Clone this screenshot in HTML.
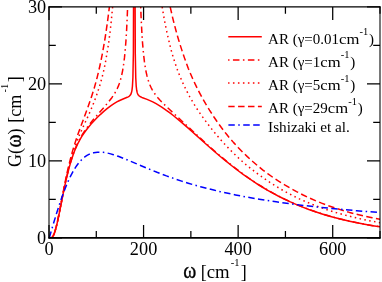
<!DOCTYPE html>
<html><head><meta charset="utf-8"><title>G(ω)</title>
<style>
html,body{margin:0;padding:0;background:#fff;}
body{width:382px;height:282px;overflow:hidden;}
svg{display:block;}
text{font-family:"Liberation Serif",serif;font-size:18px;fill:#000;}
.lg{font-size:15px;}
.tk{font-size:18.3px;}
.om{font-size:22.5px;stroke:#000;stroke-width:0.35px;}
.c{fill:none;stroke:#f00;stroke-width:1.5;stroke-linejoin:round;}
</style></head><body>
<svg width="382" height="282" viewBox="0 0 382 282">
<rect width="382" height="282" fill="#fff"/>
<defs><clipPath id="cp"><rect x="49.0" y="6.9" width="331.0" height="231.0"/></clipPath></defs>
<g clip-path="url(#cp)">
<path class="c" d="M49.20,238.10 L50.15,238.09 L51.09,237.92 L51.56,237.70 L52.04,237.35 L52.51,236.85 L52.98,236.18 L53.46,235.34 L53.93,234.33 L54.40,233.14 L55.35,230.28 L56.77,224.91 L58.19,218.58 L63.39,192.57 L65.28,183.60 L67.17,175.37 L69.06,167.98 L70.01,164.60 L71.43,159.91 L72.84,155.66 L74.26,151.81 L75.68,148.32 L77.10,145.15 L78.52,142.27 L79.94,139.63 L81.83,136.43 L83.72,133.53 L86.09,130.23 L88.45,127.21 L91.29,123.87 L94.13,120.75 L96.96,117.81 L100.27,114.57 L104.06,111.14 L107.37,108.38 L110.68,105.87 L113.99,103.63 L116.82,101.95 L119.66,100.47 L122.50,99.20 L127.23,97.31 L128.17,96.86 L129.12,96.28 L130.07,95.43 L130.54,94.79 L131.01,93.89 L131.48,92.55 L131.96,90.35 L132.43,86.34 L132.90,77.70 L133.38,53.05 L134.32,-224.92 L135.27,52.72 L135.74,77.48 L136.21,86.17 L136.69,90.22 L137.16,92.44 L137.63,93.80 L138.11,94.71 L138.58,95.35 L139.05,95.83 L139.52,96.22 L140.47,96.80 L141.89,97.44 L147.09,99.40 L149.93,100.58 L152.77,101.91 L156.08,103.66 L158.91,105.31 L161.75,107.10 L164.59,109.02 L167.43,111.04 L170.26,113.16 L173.57,115.75 L180.67,121.61 L188.23,128.19 L206.20,144.25 L214.71,151.71 L224.17,159.70 L232.69,166.52 L237.89,170.51 L243.09,174.34 L248.29,178.01 L253.02,181.21 L257.75,184.28 L262.95,187.50 L267.68,190.29 L272.88,193.21 L278.56,196.22 L284.70,199.28 L290.38,201.93 L296.53,204.62 L302.67,207.13 L308.82,209.46 L315.44,211.79 L322.06,213.94 L328.68,215.93 L335.30,217.76 L342.40,219.56 L349.49,221.21 L357.06,222.81 L364.62,224.26 L372.66,225.66 L380.51,226.89"/>
<path class="c" stroke-dasharray="1.529 3.387 6.445 3.387" stroke-dashoffset="13.691" d="M49.20,238.10 L50.15,238.07 L51.09,237.89 L51.56,237.66 L52.04,237.30 L52.51,236.79 L52.98,236.11 L53.46,235.26 L53.93,234.24 L54.40,233.04 L55.35,230.16 L56.29,226.69 L57.71,220.61 L59.13,213.81 L64.33,187.67 L66.22,178.99 L67.64,173.01 L69.53,165.76 L70.48,162.46 L71.90,157.87 L73.79,152.40 L74.74,149.92 L76.16,146.49 L78.52,141.42 L80.88,137.02 L82.30,134.63 L83.72,132.39 L86.56,128.28 L89.40,124.51 L93.18,119.83 L96.96,115.38 L105.48,105.61 L108.82,101.61 L112.03,97.43 L114.46,93.79 L115.88,91.34 L117.16,88.82 L118.34,86.14 L119.32,83.52 L120.27,80.61 L121.08,77.67 L121.91,74.12 L122.63,70.53 L123.64,64.21 L124.50,57.41 L125.30,49.20 L125.97,40.54 L126.60,30.18 L127.20,17.68 L127.70,4.35 L128.15,-10.32 L128.59,-28.41 L128.94,-46.19 L129.59,-91.18 L130.13,-146.12 L130.68,-224.92 L134.12,-224.92"/>
<path class="c" stroke-dasharray="1.528 3.384 6.440 3.384" stroke-dashoffset="0.504" d="M134.12,-224.92 L137.57,-224.92 L137.62,-223.44 L137.94,-171.10 L138.29,-128.45 L138.72,-88.28 L139.17,-56.17 L139.73,-27.06 L140.33,-4.12 L141.05,16.10 L141.83,31.88 L142.56,43.07 L143.45,53.23 L144.39,61.40 L144.94,65.26 L145.51,68.71 L146.14,72.05 L146.83,75.13 L147.46,77.61 L148.25,80.30 L149.06,82.72 L149.93,84.95 L150.94,87.24 L152.01,89.35 L152.97,91.02 L154.13,92.85 L155.33,94.56 L156.58,96.20 L158.07,98.00 L159.62,99.75 L163.64,103.89 L169.32,109.30 L199.11,137.01 L207.15,144.38 L214.24,150.72 L220.86,156.45 L227.48,161.98 L233.63,166.89 L239.78,171.60 L245.93,176.08 L251.60,180.01 L257.75,184.05 L263.90,187.86 L270.04,191.45 L276.66,195.07 L282.81,198.21 L289.43,201.36 L296.05,204.29 L302.67,207.01 L309.77,209.70 L316.86,212.17 L323.95,214.44 L331.52,216.65 L339.09,218.67 L346.65,220.50 L354.69,222.26 L363.21,223.94 L371.72,225.45 L380.51,226.84"/>
<path class="c" stroke-dasharray="1.531 3.393" stroke-dashoffset="4.986" d="M49.20,238.10 L50.15,238.09 L51.09,237.91 L51.56,237.68 L52.04,237.32 L52.51,236.81 L52.98,236.14 L53.46,235.28 L53.93,234.25 L54.87,231.68 L56.29,226.65 L57.24,222.66 L58.19,218.29 L63.86,189.37 L65.28,182.48 L66.70,175.99 L69.06,166.13 L70.48,160.80 L71.90,155.88 L73.32,151.35 L74.74,147.15 L76.16,143.25 L78.05,138.43 L81.36,130.75 L87.98,116.42 L90.82,110.00 L93.65,103.06 L96.49,95.50 L97.91,91.37 L99.33,86.92 L100.75,82.16 L102.16,77.02 L103.11,73.27 L104.06,69.14 L105.00,64.53 L105.90,59.74 L107.84,48.23 L108.90,41.27 L110.20,30.87 L111.31,20.67 L112.54,7.54 L113.56,-5.05 L114.70,-21.51 L115.65,-37.35 L116.56,-54.99 L117.44,-74.66 L118.24,-95.43 L118.97,-116.78 L119.66,-140.02 L120.40,-168.16 L121.61,-224.44 L121.73,-224.92 L133.23,-224.92"/>
<path class="c" stroke-dasharray="1.531 3.393" stroke-dashoffset="4.834" d="M133.23,-224.92 L147.21,-224.92 L147.35,-222.39 L148.59,-182.16 L149.74,-150.86 L151.12,-120.00 L152.56,-93.15 L153.40,-79.75 L154.26,-67.31 L155.13,-55.89 L156.05,-45.03 L156.98,-35.03 L157.97,-25.44 L159.12,-15.33 L160.14,-7.30 L161.39,1.68 L162.70,10.13 L163.64,15.72 L165.06,23.40 L166.48,30.36 L167.90,36.71 L170.74,48.52 L171.68,52.04 L173.57,58.41 L175.46,64.22 L177.36,69.62 L179.72,75.81 L182.08,81.39 L184.45,86.48 L186.81,91.23 L189.65,96.57 L193.43,103.17 L196.74,108.50 L200.53,114.12 L204.78,120.02 L209.99,126.86 L215.19,133.31 L220.39,139.38 L225.59,145.11 L230.79,150.52 L236.00,155.64 L241.20,160.46 L245.93,164.58 L251.13,168.81 L256.80,173.15 L263.90,178.27 L269.57,182.15 L275.25,185.80 L281.39,189.49 L287.07,192.67 L293.22,195.87 L299.36,198.83 L305.51,201.57 L312.13,204.31 L319.23,207.02 L325.85,209.34 L332.94,211.63 L340.03,213.73 L347.13,215.64 L356.11,217.85 L364.15,219.66 L372.19,221.28 L380.51,222.75"/>
<path class="c" stroke-dasharray="6.458 3.395" stroke-dashoffset="9.478" d="M49.20,238.10 L50.15,238.08 L51.09,237.90 L51.56,237.66 L52.04,237.29 L52.51,236.77 L52.98,236.07 L53.46,235.21 L53.93,234.16 L54.40,232.93 L55.35,229.98 L56.77,224.45 L58.19,217.92 L59.60,210.76 L63.86,188.36 L66.22,176.73 L68.59,166.18 L70.95,156.76 L72.37,151.62 L73.79,146.81 L76.63,138.02 L79.47,130.00 L85.14,114.80 L87.98,106.96 L91.76,95.92 L94.13,88.52 L96.49,80.04 L98.85,70.46 L100.75,61.86 L102.64,52.26 L104.53,41.49 L105.95,32.52 L107.62,20.83 L109.03,9.88 L110.39,-1.73 L111.89,-15.81 L113.32,-30.73 L114.70,-46.44 L115.88,-61.20 L117.10,-77.70 L118.31,-95.11 L119.59,-115.02 L121.95,-154.83 L125.81,-224.52 L125.90,-224.92 L134.53,-224.92"/>
<path class="c" stroke-dasharray="6.468 3.401" stroke-dashoffset="3.209" d="M134.53,-224.92 L144.58,-224.92 L144.69,-224.35 L148.04,-177.85 L150.75,-143.21 L152.11,-127.34 L153.54,-111.67 L154.87,-98.02 L156.27,-84.71 L157.72,-71.81 L159.24,-59.37 L160.80,-47.58 L162.27,-37.34 L163.64,-28.44 L165.53,-17.10 L167.43,-6.76 L169.32,2.73 L170.74,9.34 L172.63,17.55 L174.05,23.31 L175.94,30.52 L177.83,37.23 L179.72,43.52 L182.08,50.87 L184.45,57.87 L186.34,63.19 L188.23,68.18 L190.12,72.81 L192.49,78.25 L194.85,83.38 L197.22,88.24 L199.58,92.87 L202.42,98.15 L205.73,103.93 L209.51,110.14 L213.77,116.72 L217.55,122.25 L221.34,127.49 L225.59,133.05 L229.37,137.69 L233.63,142.62 L238.36,147.77 L242.62,152.10 L247.35,156.64 L253.02,161.79 L258.22,166.26 L262.95,170.09 L267.68,173.69 L272.88,177.36 L278.56,181.11 L284.70,184.93 L290.38,188.24 L296.53,191.60 L303.15,195.00 L309.29,197.94 L315.44,200.66 L321.59,203.17 L328.21,205.64 L335.30,208.08 L342.40,210.34 L349.49,212.40 L356.11,214.13 L363.21,215.81 L372.19,217.78 L380.51,219.45"/>
<path class="c" style="stroke:#00f" stroke-dasharray="6.458 3.395 1.532 3.395 6.458 3.395" stroke-dashoffset="24.250" d="M49.20,238.10 L53.93,222.05 L56.77,212.76 L59.60,203.94 L62.44,195.70 L65.28,188.16 L68.12,181.37 L70.01,177.29 L70.95,175.38 L72.84,171.83 L73.79,170.18 L75.68,167.15 L76.63,165.76 L78.52,163.23 L79.47,162.08 L81.36,160.01 L82.30,159.08 L84.19,157.44 L85.14,156.72 L87.03,155.46 L88.92,154.43 L90.82,153.62 L91.76,153.29 L93.65,152.76 L95.54,152.40 L97.44,152.20 L99.33,152.13 L101.22,152.18 L103.11,152.34 L105.00,152.60 L108.79,153.37 L110.68,153.86 L113.51,154.69 L118.24,156.31 L123.92,158.50 L129.59,160.84 L146.62,168.08 L157.02,172.30 L166.48,175.89 L175.94,179.22 L181.61,181.09 L188.23,183.17 L193.91,184.85 L200.53,186.70 L207.15,188.45 L213.77,190.10 L220.39,191.66 L227.96,193.33 L235.52,194.90 L243.09,196.37 L250.66,197.75 L259.17,199.20 L267.68,200.56 L276.19,201.84 L294.16,204.28 L303.62,205.44 L314.02,206.63 L334.83,208.78 L356.58,210.74 L380.23,212.60"/>
</g>
<g id="legend">
<path class="c" d="M228.3,36.8H261.8"/>
<path class="c" stroke-dasharray="1.547 3.441 6.535 3.441" stroke-dashoffset="0.15" d="M228.1,59.9H261.8"/>
<path class="c" stroke-dasharray="1.547 3.441" stroke-dashoffset="0.15" d="M228.1,83.1H261.8"/>
<path class="c" stroke-dasharray="6.500 3.420" stroke-dashoffset="0.15" d="M228.3,106.4H261.8"/>
<path class="c" style="stroke:#00f" stroke-dasharray="6.535 3.441 1.547 3.441 6.535 3.441" stroke-dashoffset="0.15" d="M228.4,124.9H261.8"/>
</g>
<path d="M49.0,6.2V238.70000000000002M380.0,6.2V238.70000000000002" fill="none" stroke="#000" stroke-width="1.05"/>
<path d="M48.5,6.9H380.5" fill="none" stroke="#000" stroke-width="1.4"/>
<path d="M48.5,237.9H380.5" fill="none" stroke="#000" stroke-width="1.6"/>
<path d="M49.00,237.90v-13M49.00,6.90v13M96.29,237.90v-6.8M96.29,6.90v6.8M143.57,237.90v-13M143.57,6.90v13M190.86,237.90v-6.8M190.86,6.90v6.8M238.14,237.90v-13M238.14,6.90v13M285.43,237.90v-6.8M285.43,6.90v6.8M332.71,237.90v-13M332.71,6.90v13M380.00,237.90v-6.8M380.00,6.90v6.8M49.00,237.90h13M380.00,237.90h-13M49.00,199.40h6.8M380.00,199.40h-6.8M49.00,160.90h13M380.00,160.90h-13M49.00,122.40h6.8M380.00,122.40h-6.8M49.00,83.90h13M380.00,83.90h-13M49.00,45.40h6.8M380.00,45.40h-6.8M49.00,6.90h13M380.00,6.90h-13" fill="none" stroke="#000" stroke-width="1.25"/>
<g id="txt" style="filter:grayscale(1)"><g id="xl"><text x="49.00" y="254.6" class="tk" text-anchor="middle">0</text><text x="143.57" y="254.6" class="tk" text-anchor="middle">200</text><text x="238.14" y="254.6" class="tk" text-anchor="middle">400</text><text x="332.71" y="254.6" class="tk" text-anchor="middle">600</text></g>
<g id="yl"><text x="46.2" y="244.35" class="tk" text-anchor="end">0</text><text x="46.2" y="167.35" class="tk" text-anchor="end">10</text><text x="46.2" y="90.35" class="tk" text-anchor="end">20</text><text x="46.2" y="13.35" class="tk" text-anchor="end">30</text></g>
<text class="om" transform="translate(183.3,278.4) scale(0.88,1)">ω</text>
<text id="xlabel" x="200.8" y="278">[<tspan textLength="22.9" lengthAdjust="spacingAndGlyphs">cm</tspan><tspan dy="-12.2" dx="1.0" font-size="10.5">-1</tspan><tspan dy="12.2" dx="1.2">]</tspan></text>
<g transform="translate(21,167) rotate(-90)">
<text x="0" y="0">G(</text>
<text class="om" transform="translate(19.6,0.4) scale(0.88,1)">ω</text>
<text x="32.6" y="0">)</text>
<text x="44.3" y="0">[cm<tspan dy="-12.6" dx="2.2" font-size="10.5">-1</tspan><tspan dy="12.6" dx="1.5">]</tspan></text>
</g>
<text x="268.1" y="43.5" class="lg">AR (γ=0.01<tspan dx="0" textLength="20.3" lengthAdjust="spacingAndGlyphs">cm</tspan><tspan dy="-8.1" dx="0.3" font-size="10.5">-1</tspan><tspan dy="8.1" dx="0.6">)</tspan></text><text x="268.1" y="66.5" class="lg">AR (γ=1<tspan dx="0" textLength="20.3" lengthAdjust="spacingAndGlyphs">cm</tspan><tspan dy="-8.1" dx="0.3" font-size="10.5">-1</tspan><tspan dy="8.1" dx="0.6">)</tspan></text><text x="268.1" y="89.8" class="lg">AR (γ=5<tspan dx="0" textLength="20.3" lengthAdjust="spacingAndGlyphs">cm</tspan><tspan dy="-8.1" dx="0.3" font-size="10.5">-1</tspan><tspan dy="8.1" dx="0.6">)</tspan></text><text x="268.1" y="113.1" class="lg">AR (γ=29<tspan dx="0" textLength="20.3" lengthAdjust="spacingAndGlyphs">cm</tspan><tspan dy="-8.1" dx="0.3" font-size="10.5">-1</tspan><tspan dy="8.1" dx="0.6">)</tspan></text><text x="268.1" y="131.6" class="lg" style="font-size:15.25px">Ishizaki et al.</text>
</g>
</svg>
</body></html>
